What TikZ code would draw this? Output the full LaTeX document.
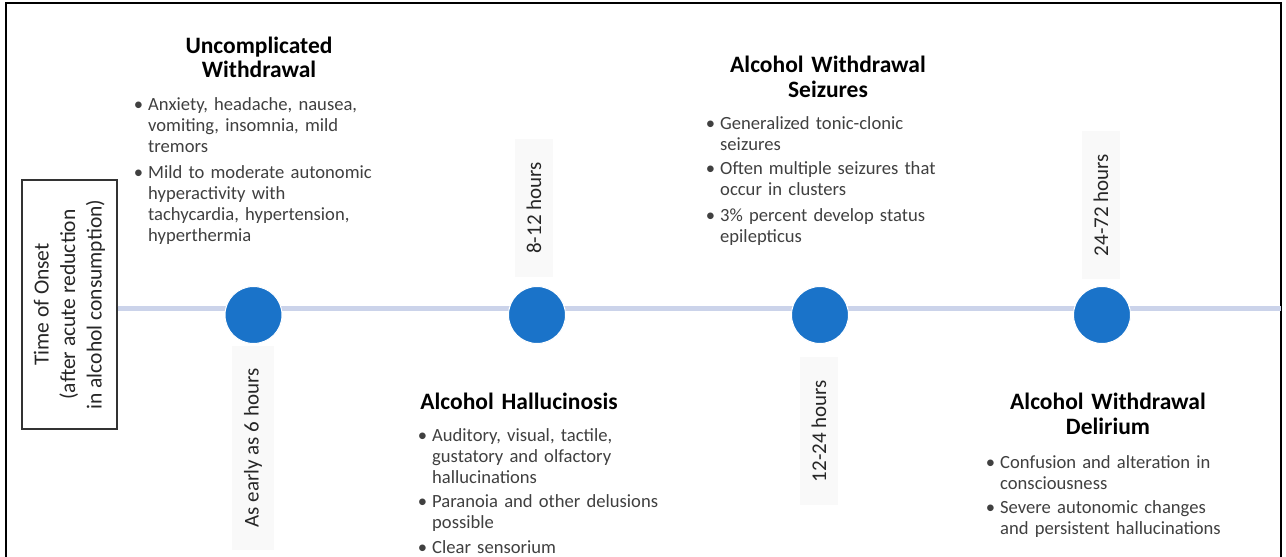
\documentclass[tikz,border=0pt]{standalone}
\usepackage{fontspec}
\setmainfont{Carlito}
\definecolor{dotblue}{HTML}{1A73C9}
\definecolor{tline}{HTML}{CBD3EA}
\definecolor{btext}{HTML}{404040}
\definecolor{htext}{HTML}{262626}
\definecolor{lblbg}{HTML}{F9F9F9}
\newcommand{\bulmark}{\leavevmode\llap{\textbullet\hspace{5pt}}}
\begin{document}
\begin{tikzpicture}[x=1pt,y=-1pt,
  frame/.style={draw=black, line width=2.5pt},
  tl/.style={draw=tline, line width=5pt},
  dot/.style={circle, fill=dotblue, draw=white, line width=1pt, minimum size=57pt, inner sep=0pt},
  head/.style={font=\bfseries\fontsize{23.5}{24.5}\selectfont, text=black, align=center, inner sep=0pt, anchor=base},
  blist/.style={font=\fontsize{18.6}{21}\selectfont, text=btext, align=left, text width=290pt, inner sep=0pt, anchor=base west},
  hourlbl/.style={rotate=90, font=\fontsize{21}{25}\selectfont, text=htext, fill=lblbg, inner xsep=23pt, inner ysep=12pt},
  onset/.style={rotate=90, draw=black!80, line width=1.3pt, minimum width=249pt, minimum height=95pt, align=center, font=\fontsize{21.5}{26.5}\selectfont, text=htext, inner sep=0pt}
]
\useasboundingbox (0,0) rectangle (1286,557);
\fill[white] (0,0) rectangle (1286,557);
% frame
\draw[frame] (6,560) -- (6,3) -- (1281,3) -- (1281,560);
% onset box
\node[onset] (box) at (69.5,304.5) {Time of Onset\\(after acute reduction\\in alcohol consumption)};
% timeline
\coordinate (le) at (1281,308);
\draw[tl] (box.south |- le) -- (le);
% dots
\node[dot] (d1) at (253.5,315) {};
\node[dot] (d2) at (537,315) {};
\node[dot] (d3) at (820,315) {};
\node[dot] (d4) at (1102,315) {};
% hour labels
\node[hourlbl] (t1) at (253,448) {As early as 6 hours};
\node[hourlbl] (t2) at (534,208) {8-12 hours};
\node[hourlbl] (t3) at (819,431) {12-24 hours};
\node[hourlbl] (t4) at (1101,205) {24-72 hours};
% headings
\node[head, text width=220pt] (h1) at (259,53) {Uncomplicated\\Withdrawal};
\node[head, text width=260pt] (h2) at (519,409.5) {Alcohol Hallucinosis};
\node[head, text width=260pt] (h3) at (828,72.5) {Alcohol Withdrawal\\Seizures};
\node[head, text width=260pt] (h4) at (1108,409.5) {Alcohol Withdrawal\\Delirium};
% bullet lists
\node[blist] (l1) at (148,110) {\bulmark Anxiety, headache, nausea,\\vomiting, insomnia, mild\\tremors\\[5pt]\bulmark Mild to moderate autonomic\\hyperactivity with\\tachycardia, hypertension,\\hyperthermia};
\node[blist] (l2) at (432,441) {\bulmark Auditory, visual, tactile,\\gustatory and olfactory\\hallucinations\\[3pt]\bulmark Paranoia and other delusions\\possible\\[4pt]\bulmark Clear sensorium};
\node[blist] (l3) at (720,129) {\bulmark Generalized tonic-clonic\\seizures\\[3pt]\bulmark Often multiple seizures that\\occur in clusters\\[5pt]\bulmark 3\% percent develop status\\epilepticus};
\node[blist, text width=270pt] (l4) at (1000,468) {\bulmark Confusion and alteration in\\consciousness\\[3pt]\bulmark Severe autonomic changes\\and persistent hallucinations};
\end{tikzpicture}
\end{document}
